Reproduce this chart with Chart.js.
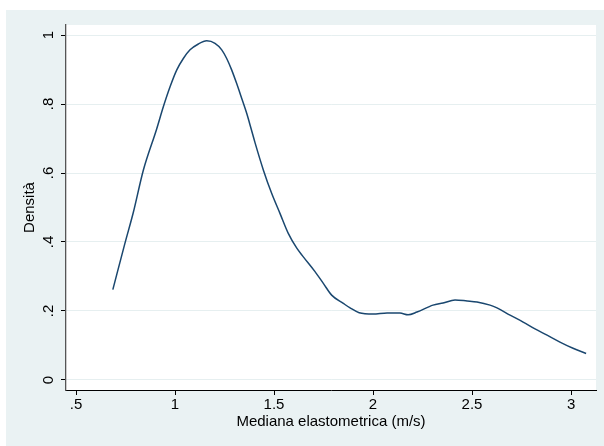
<!DOCTYPE html>
<html>
<head>
<meta charset="utf-8">
<script src="https://cdn.jsdelivr.net/npm/chart.js@4"></script>
<style>
  html, body { margin: 0; padding: 0; background: #ffffff; }
  #wrap { width: 604px; height: 446px; }
</style>
</head>
<body>
<div id="wrap"><canvas id="c" width="604" height="446"></canvas></div>
<script>
// Kernel density of median elastometry (m/s)
const elastX = [0.686, 0.747, 0.790, 0.840, 0.907, 0.941, 0.975, 1.009, 1.042, 1.076, 1.118, 1.160,
  1.202, 1.236, 1.261, 1.286, 1.311, 1.337, 1.362, 1.384, 1.404, 1.446, 1.488, 1.530, 1.572, 1.615,
  1.648, 1.707, 1.749, 1.791, 1.850, 1.884, 1.930, 2.000, 2.071, 2.136, 2.177, 2.222, 2.303, 2.354,
  2.414, 2.475, 2.525, 2.591, 2.626, 2.692, 2.758, 2.818, 2.879, 2.944, 3.010, 3.076];
const densityY = [0.262, 0.396, 0.487, 0.608, 0.727, 0.792, 0.850, 0.899, 0.932, 0.957, 0.974, 0.983,
  0.976, 0.957, 0.932, 0.899, 0.860, 0.816, 0.773, 0.729, 0.688, 0.609, 0.541, 0.483, 0.425, 0.382,
  0.357, 0.314, 0.280, 0.246, 0.222, 0.209, 0.195, 0.191, 0.194, 0.194, 0.189, 0.197, 0.217, 0.223,
  0.232, 0.229, 0.226, 0.217, 0.209, 0.188, 0.168, 0.148, 0.130, 0.110, 0.092, 0.077];

const xTickValues = [0.5, 1, 1.5, 2, 2.5, 3];
const yTickValues = [0, 0.2, 0.4, 0.6, 0.8, 1];
const xTitle = 'Mediana elastometrica (m/s)';
const yTitle = 'Densità';

// Stata-style labels: drop the leading zero (".5", ".2")
const fmt = v => {
  const s = String(Math.round(v * 10) / 10);
  return s.startsWith('0.') ? s.slice(1) : s;
};

const FONT = '"Liberation Sans", Arial, Helvetica, sans-serif';
const FSIZE = 15;
const BG = '#eaf2f3';

const backgrounds = {
  id: 'backgrounds',
  beforeDraw(chart) {
    const { ctx, chartArea: a } = chart;
    ctx.save();
    ctx.fillStyle = BG;
    ctx.fillRect(6, 10, 598, 436);
    ctx.fillStyle = '#ffffff';
    ctx.fillRect(a.left, a.top, a.right - a.left, a.bottom - a.top);
    ctx.restore();
  }
};

// Rotated y tick labels, placed on the y scale's own tick positions
const yLabels = {
  id: 'yLabels',
  afterDraw(chart) {
    const { ctx } = chart;
    const y = chart.scales.y;
    ctx.save();
    ctx.fillStyle = '#000000';
    ctx.font = FSIZE + 'px ' + FONT;
    ctx.textAlign = 'center';
    ctx.textBaseline = 'middle';
    yTickValues.forEach(v => {
      const py = y.getPixelForValue(v);
      ctx.save();
      ctx.translate(48.5, py);
      ctx.rotate(-Math.PI / 2);
      ctx.fillText(fmt(v), 0, 0);
      ctx.restore();
    });
    ctx.restore();
  }
};

new Chart(document.getElementById('c'), {
  type: 'line',
  data: {
    datasets: [{
      data: elastX.map((x, i) => ({ x, y: densityY[i] })),
      borderColor: '#1a476f',
      borderWidth: 1.5,
      pointRadius: 0,
      fill: false,
      cubicInterpolationMode: 'monotone'
    }]
  },
  options: {
    responsive: false,
    animation: false,
    events: [],
    layout: { padding: { left: 0, top: 25, right: 8, bottom: 0 } },
    plugins: { legend: { display: false }, tooltip: { enabled: false } },
    scales: {
      x: {
        type: 'linear',
        min: 0.4495,
        max: 3.126,
        afterBuildTicks: s => { s.ticks = xTickValues.map(v => ({ value: v })); },
        afterFit: s => { s.height = 56; },
        border: { color: '#000000', width: 1 },
        grid: { drawOnChartArea: false, drawTicks: true, tickLength: 5, tickColor: '#000000', tickWidth: 1 },
        ticks: {
          color: '#000000',
          padding: 1,
          maxRotation: 0,
          font: { family: FONT, size: FSIZE },
          callback: v => fmt(v)
        },
        title: {
          display: true,
          text: xTitle,
          color: '#000000',
          font: { family: FONT, size: FSIZE },
          padding: { top: 0, bottom: 15 }
        }
      },
      y: {
        type: 'linear',
        min: -0.029,
        max: 1.029,
        afterBuildTicks: s => { s.ticks = yTickValues.map(v => ({ value: v })); },
        afterFit: s => { s.width = 66; },
        border: { color: '#555555', width: 1.3 },
        grid: { drawOnChartArea: true, color: '#e6eff0', lineWidth: 1, drawTicks: true, tickLength: 5, tickColor: '#000000', tickWidth: 1 },
        ticks: { display: false },
        title: {
          display: true,
          text: yTitle,
          color: '#000000',
          font: { family: FONT, size: FSIZE },
          padding: { top: 21, bottom: 0 }
        }
      }
    }
  },
  plugins: [backgrounds, yLabels]
});
</script>
</body>
</html>
